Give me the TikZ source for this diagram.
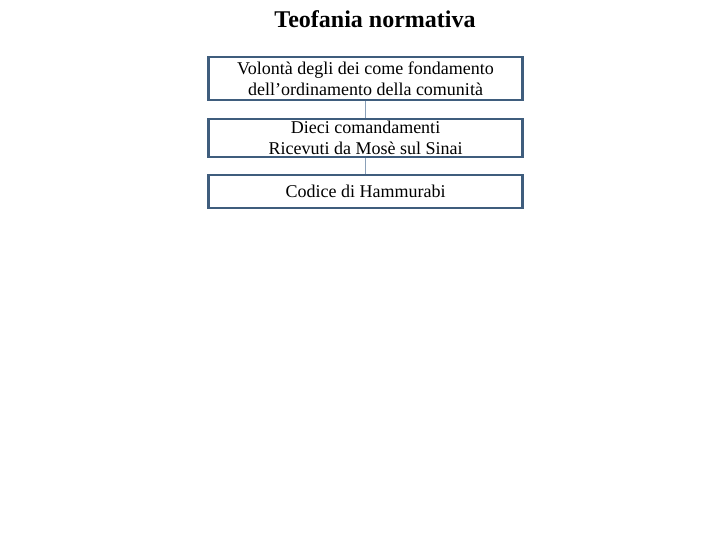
\documentclass[tikz,border=0pt]{standalone}
\usepackage{fontspec}
\setmainfont{Liberation Serif}
\definecolor{boxborder}{HTML}{3F5D7D}
\definecolor{linkc}{HTML}{8AA0B8}
\begin{document}
\begin{tikzpicture}[x=1pt,y=-1pt,
  boxstyle/.style={draw=boxborder,line width=2.6pt,fill=white,minimum width=314pt,inner sep=0pt,align=center,font=\fontsize{18}{21}\selectfont},
  link/.style={draw=linkc,line width=0.8pt}]
\useasboundingbox (0,0) rectangle (720,540);
\node[font=\bfseries\fontsize{24}{26}\selectfont] (title) at (375,19) {Teofania normativa};
\node[boxstyle,minimum height=43pt] (b1) at (365.5,78.5) {Volontà degli dei come fondamento\\dell’ordinamento della comunità};
\node[boxstyle,minimum height=38pt] (b2) at (365.5,138) {Dieci comandamenti\\Ricevuti da Mosè sul Sinai};
\node[boxstyle,minimum height=33pt] (b3) at (365.5,191.5) {Codice di Hammurabi};
\draw[link] (b1.south) -- (b2.north);
\draw[link] (b2.south) -- (b3.north);
\end{tikzpicture}
\end{document}
